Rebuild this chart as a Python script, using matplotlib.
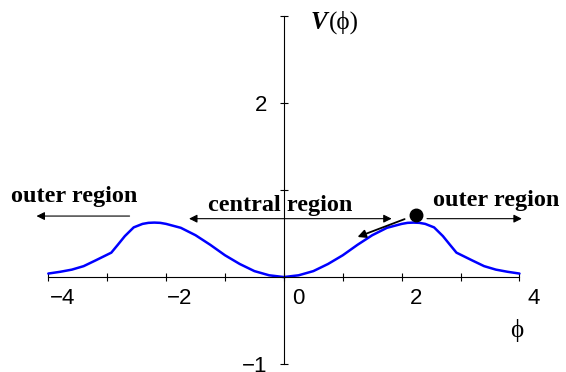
"""Potential V(phi) with central and outer regions marked."""

import matplotlib

matplotlib.use("Agg")  # headless

import matplotlib.pyplot as plt  # noqa: E402
from matplotlib.transforms import ScaledTranslation  # noqa: E402

# curve
phi = [-4.0, -3.8, -3.6, -3.4, -3.2, -3.05, -2.93, -2.82, -2.7, -2.55,
       -2.4, -2.3, -2.2, -2.1, -2.0, -1.75, -1.5, -1.25, -1.0, -0.75,
       -0.5, -0.25, 0.0,
       0.25, 0.5, 0.75, 1.0, 1.25, 1.5, 1.75, 2.0, 2.1, 2.2, 2.3, 2.4,
       2.55, 2.7, 2.82, 2.93, 3.05, 3.2, 3.4, 3.6, 3.8, 4.0]
V = [0.04, 0.06, 0.085, 0.125, 0.19, 0.24, 0.28, 0.37, 0.47, 0.57,
     0.61, 0.622, 0.625, 0.622, 0.61, 0.565, 0.48, 0.37, 0.25, 0.15,
     0.068, 0.02, 0.0,
     0.02, 0.068, 0.15, 0.25, 0.37, 0.48, 0.565, 0.61, 0.622, 0.625,
     0.622, 0.61, 0.57, 0.47, 0.37, 0.28, 0.24, 0.19, 0.125, 0.085, 0.06,
     0.04]

xticks = [-4, -3, -2, -1, 0, 1, 2, 3, 4]
xtick_labels = ["\u22124", "", "\u22122", "", "0", "", "2", "", "4"]
yticks = [-1, 1, 2, 3]
ytick_labels = ["\u22121", "", "2", ""]

ball = (2.24, 0.71)

serif = ["Liberation Serif", "DejaVu Serif"]
sans = "Liberation Sans"

fig = plt.figure(figsize=(5.66, 3.72), dpi=100)
ax = fig.add_axes([0, 0, 1, 1])
ax.set_xlim(-4.82, 4.79)
ax.set_ylim(-1.09, 3.18)

ax.plot(phi, V, color="#0000ff", lw=1.8, solid_capstyle="round",
        solid_joinstyle="round")

# axes through origin
for side in ("top", "right"):
    ax.spines[side].set_visible(False)
ax.spines["left"].set_position(("data", 0))
ax.spines["bottom"].set_position(("data", 0))
ax.spines["left"].set_bounds(-1, 3)
ax.spines["bottom"].set_bounds(-4, 4)
for s in ("left", "bottom"):
    ax.spines[s].set_linewidth(0.8)

ax.set_xticks(xticks, xtick_labels)
ax.set_yticks(yticks, ytick_labels)
ax.tick_params(direction="inout", length=5.5, width=0.8, labelsize=16)
ax.tick_params(axis="x", pad=5)
ax.tick_params(axis="y", pad=9)
for lbl in ax.get_xticklabels() + ax.get_yticklabels():
    lbl.set_fontfamily(sans)
shift = ScaledTranslation(14 / 100, 0, fig.dpi_scale_trans)
for lbl in ax.get_xticklabels():
    lbl.set_transform(lbl.get_transform() + shift)

# axis labels
vt = ax.text(0.46, 2.92, "V", fontfamily=serif, fontsize=18,
             fontweight="bold", fontstyle="italic", va="center", ha="left")
ax.annotate("(\u03d5)", xy=(1.0, 0.5), xycoords=vt, va="center", ha="left",
            fontfamily=serif, fontsize=18, xytext=(1, 0),
            textcoords="offset points")
ax.text(3.95, -0.61, "\u03d5", fontfamily=serif, fontsize=18,
        ha="center", va="center")

# region annotations
bold = dict(fontfamily=serif, fontsize=17.5, fontweight="bold",
            ha="center", va="center")
arrow = dict(arrowstyle="-|>", color="black", lw=0.8, mutation_scale=12,
             shrinkA=0, shrinkB=0)
ax.text(-3.56, 0.93, "outer region", **bold)
ax.annotate("", xy=(-4.20, 0.70), xytext=(-2.62, 0.70), arrowprops=arrow)
ax.text(3.61, 0.88, "outer region", **bold)
ax.annotate("", xy=(4.04, 0.67), xytext=(2.43, 0.67), arrowprops=arrow)
ax.text(-0.07, 0.82, "central region", **bold)
ax.annotate("", xy=(-1.61, 0.67), xytext=(1.83, 0.67),
            arrowprops=dict(arrowstyle="<|-|>", color="black", lw=0.8,
                            mutation_scale=12, shrinkA=0, shrinkB=0))

# rolling ball
ax.plot(*ball, "o", color="black", ms=9)
ax.annotate("", xy=(1.25, 0.46), xytext=(2.05, 0.665),
            arrowprops=dict(arrowstyle="-|>", color="black", lw=1.3,
                            mutation_scale=12, shrinkA=0, shrinkB=0))

fig.savefig("out.png", dpi=100)
